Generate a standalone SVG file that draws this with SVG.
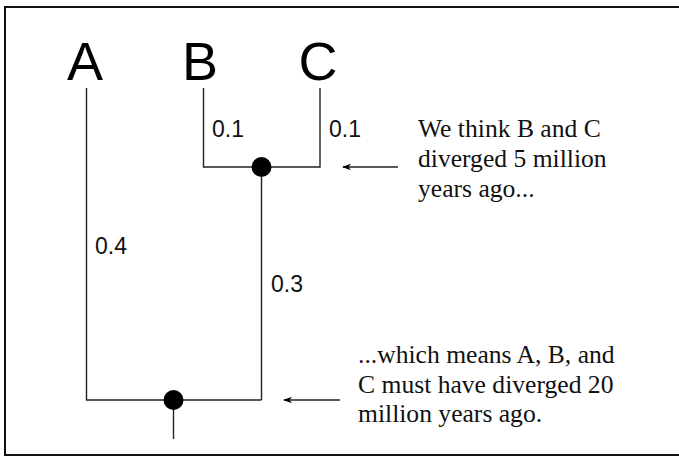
<svg xmlns="http://www.w3.org/2000/svg" width="679" height="457" viewBox="0 0 679 457">
<defs>
<marker id="ah" markerWidth="9" markerHeight="8" refX="1" refY="4" orient="auto" markerUnits="userSpaceOnUse">
<path d="M9,0.8 L0,4 L9,7.2 L6.5,4 Z" fill="#000"/>
</marker>
</defs>
<style>
.leaf{font-family:"Liberation Sans",Arial,sans-serif;font-size:54px;fill:#000;text-anchor:middle}
.len{font-family:"Liberation Sans",Arial,sans-serif;font-size:23px;fill:#111}
.note{font-family:"Liberation Serif","Times New Roman",serif;font-size:25.6px;fill:#111}
.br{fill:none;stroke:#222;stroke-width:1.4}
.arr{fill:none;stroke:#222;stroke-width:1.4;marker-start:url(#ah)}
</style>
<rect x="5" y="7" width="690" height="448" fill="#fff" stroke="#111" stroke-width="2"/>
<g id="connectors">
<path class="br" d="M86.5,88 V400 H261.5"/>
<path class="br" d="M203.5,88 V167 H320 V88"/>
<path class="br" d="M261.5,167 V400"/>
<path class="br" d="M173.5,400 V439"/>
<line class="arr" x1="343" y1="167" x2="398" y2="167"/>
<line class="arr" x1="284" y1="400" x2="340" y2="400"/>
</g>
<g id="leaf-A"><text class="leaf" x="85" y="80">A</text></g>
<g id="leaf-B"><text class="leaf" x="200" y="80">B</text></g>
<g id="leaf-C"><text class="leaf" x="318" y="80">C</text></g>
<g id="node-BC"><circle cx="261.5" cy="167" r="10" fill="#000"/></g>
<g id="node-ABC"><circle cx="173.5" cy="400" r="10" fill="#000"/></g>
<g id="labels">
<text class="len" x="212" y="137">0.1</text>
<text class="len" x="329" y="137">0.1</text>
<text class="len" x="95" y="254">0.4</text>
<text class="len" x="271" y="292">0.3</text>
</g>
<g id="note-1">
<text class="note" x="418" y="137">We think B and C</text>
<text class="note" x="418" y="167">diverged 5 million</text>
<text class="note" x="418" y="197">years ago...</text>
</g>
<g id="note-2">
<text class="note" x="358" y="363">...which means A, B, and</text>
<text class="note" x="358" y="393">C must have diverged 20</text>
<text class="note" x="358" y="422">million years ago.</text>
</g>
</svg>
